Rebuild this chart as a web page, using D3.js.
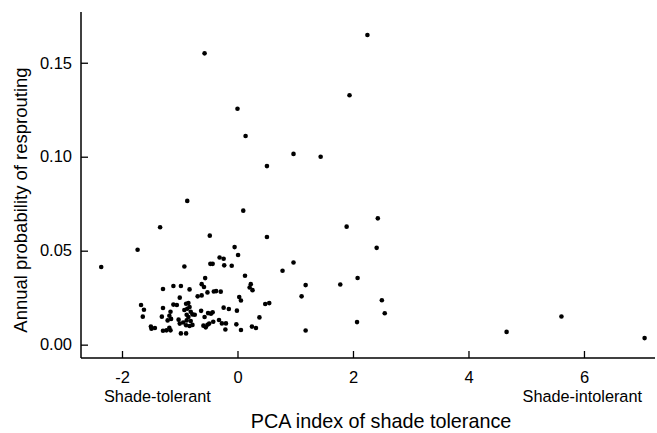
<!DOCTYPE html>
<html>
<head>
<meta charset="utf-8">
<script src="https://cdn.jsdelivr.net/npm/d3@7"></script>
<style>
  body { margin: 0; background: #fff; }
  text { font-family: "Liberation Sans", Arial, sans-serif; fill: #000; }
</style>
</head>
<body>
<div id="chart"></div>
<script>
// PCA index of shade tolerance (x) vs annual probability of resprouting (y)
const pcaIndex = [
  -0.57, 0.00, 0.14, 0.97, 1.44, 0.51, -0.87, 0.10, -1.34, -0.48,
  0.51, -1.73, -2.36, -0.05, 0.01, -0.92, -0.47, -0.43, -0.31, -0.24,
  -0.23, -0.10, 0.97, 0.78, 2.25, 1.94, 2.43, 1.89, 2.41, 2.08,
  1.18, 1.78, 1.11, 2.50, 2.55, 2.07, 1.18, 4.66, 5.61, 7.05,
  -0.56, 0.13, -0.62, -0.58, -0.52, -0.41, -0.37, -0.29, 0.23, 0.21,
  0.26, 0.03, 0.06, 0.48, 0.55, -0.24, -0.15, -0.01, -0.57, -0.51,
  -0.46, -0.43, -0.42, -0.32, -0.27, -0.20, -0.02, 0.38, 0.25, 0.32,
  -0.21, 0.06, -0.59, -0.55, -0.52, -0.63, -0.62, -1.29, -1.11, -0.98,
  -0.83, -0.69, -1.00, -1.67, -1.62, -1.64, -1.29, -1.11, -1.05, -1.16,
  -0.89, -0.85, -0.83, -0.92, -0.87, -0.81, -0.88, -0.85, -0.78, -0.74,
  -1.31, -1.18, -1.21, -1.15, -1.02, -0.94, -1.00, -0.89, -0.83, -0.88,
  -0.81, -0.78, -0.49, -1.50, -1.43, -1.49, -1.29, -1.23, -1.18, -1.16,
  -0.98, -0.89
];
const resprout = [
  0.155, 0.1255, 0.111, 0.1015, 0.100, 0.095, 0.0765, 0.0713, 0.0625, 0.058,
  0.0573, 0.0505, 0.0413, 0.0519, 0.0477, 0.0416, 0.043, 0.043, 0.0464, 0.0457,
  0.0422, 0.042, 0.0437, 0.0393, 0.1648, 0.1327, 0.0672, 0.0628, 0.0515, 0.0355,
  0.0317, 0.032, 0.0257, 0.0236, 0.0167, 0.012, 0.0075, 0.0068, 0.015, 0.0035,
  0.0354, 0.0367, 0.0322, 0.0307, 0.0278, 0.0283, 0.0285, 0.0282, 0.0322, 0.0304,
  0.029, 0.0253, 0.0235, 0.0216, 0.0221, 0.0197, 0.019, 0.0181, 0.0147, 0.0168,
  0.0165, 0.0172, 0.0122, 0.0131, 0.0113, 0.0113, 0.0108, 0.0145, 0.0096, 0.0089,
  0.0081, 0.0078, 0.0101, 0.0092, 0.0106, 0.018, 0.0262, 0.0296, 0.0312, 0.0312,
  0.0294, 0.0257, 0.025, 0.0211, 0.0186, 0.0149, 0.0195, 0.0213, 0.0211, 0.0175,
  0.0218, 0.0222, 0.020, 0.0184, 0.0191, 0.0175, 0.0159, 0.0147, 0.0161, 0.0159,
  0.0149, 0.0154, 0.0129, 0.0137, 0.0133, 0.0118, 0.0112, 0.0103, 0.0099, 0.0129,
  0.0126, 0.0105, 0.0112, 0.0096, 0.0089, 0.0085, 0.0074, 0.0076, 0.009, 0.0076,
  0.006, 0.006
];
const xTicks = [-2, 0, 2, 4, 6];
const yTicks = [0, 0.05, 0.10, 0.15];

const width = 657;
const height = 433;
const margin = { top: 12, right: 2, bottom: 75, left: 81 };

const svg = d3.select("#chart")
  .append("svg")
  .attr("width", width)
  .attr("height", height);

const x = d3.scaleLinear()
  .domain([-2.71, 7.23])
  .range([margin.left, width - margin.right]);

const y = d3.scaleLinear()
  .domain([-0.0071, 0.177])
  .range([height - margin.bottom, margin.top]);

// axes with inward ticks, plain hyphen for negatives like the original
const xAxis = svg.append("g")
  .attr("transform", `translate(0,${height - margin.bottom})`)
  .call(d3.axisBottom(x).tickValues(xTicks).tickSize(-7).tickPadding(13)
    .tickFormat((d) => String(d)));

const yAxis = svg.append("g")
  .attr("transform", `translate(${margin.left},0)`)
  .call(d3.axisLeft(y).tickValues(yTicks).tickSize(-7).tickPadding(9)
    .tickFormat(d3.format(".2f")));

[xAxis, yAxis].forEach((g) => {
  g.select(".domain").attr("stroke", "#000").attr("stroke-width", 1.5);
  g.selectAll(".tick line").attr("stroke", "#000").attr("stroke-width", 1.3);
  g.selectAll(".tick text")
    .style("font-family", "'Liberation Sans', Arial, sans-serif")
    .style("font-size", "16.5px")
    .attr("fill", "#000");
});
// domain lines without end caps
xAxis.select(".domain").attr("d", `M${margin.left},0H${width - margin.right}`);
yAxis.select(".domain").attr("d", `M0,${margin.top}V${height - margin.bottom}`);

// points
svg.append("g")
  .selectAll("circle")
  .data(pcaIndex.map((v, i) => [v, resprout[i]]))
  .enter()
  .append("circle")
  .attr("cx", (d) => x(d[0]))
  .attr("cy", (d) => y(d[1]))
  .attr("r", 2.3)
  .attr("fill", "#000");

// labels
svg.append("text")
  .attr("x", 104)
  .attr("y", 402)
  .style("font-size", "16.3px")
  .text("Shade-tolerant");

svg.append("text")
  .attr("x", 642)
  .attr("y", 402)
  .attr("text-anchor", "end")
  .style("font-size", "16.3px")
  .text("Shade-intolerant");

svg.append("text")
  .attr("x", 381)
  .attr("y", 428)
  .attr("text-anchor", "middle")
  .style("font-size", "19.8px")
  .text("PCA index of shade tolerance");

svg.append("text")
  .attr("transform", `translate(27,200) rotate(-90)`)
  .attr("text-anchor", "middle")
  .style("font-size", "18.5px")
  .text("Annual probability of resprouting");
</script>
</body>
</html>
